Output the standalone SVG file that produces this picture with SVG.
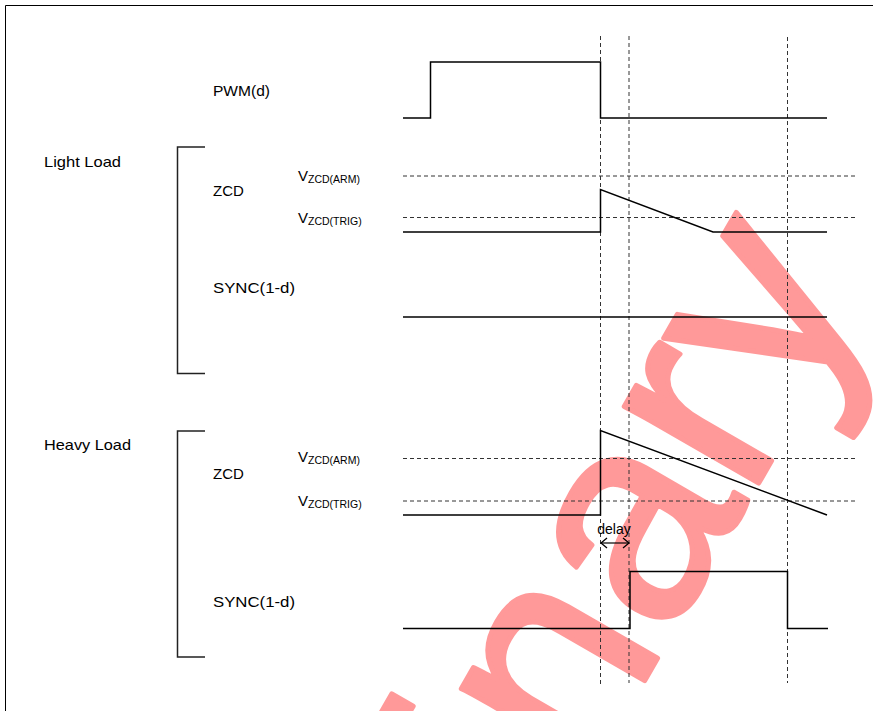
<svg xmlns="http://www.w3.org/2000/svg" width="873" height="711" viewBox="0 0 873 711">
<style>
.sig{fill:none;stroke:#000;stroke-width:1.5}
.dash{fill:none;stroke:#333;stroke-width:1;stroke-dasharray:4 3}
.brk{fill:none;stroke:#222;stroke-width:1.5}
.lbl{font-family:"Liberation Sans",Arial,sans-serif;font-size:15px;fill:#000}
.sub{font-size:10.5px}
.wm{font-family:"Liberation Sans",Arial,sans-serif;font-size:293px;fill:#ff9999;stroke:#ff9999;stroke-width:5;stroke-linejoin:round}
</style>
<defs>
<marker id="ah" markerWidth="10" markerHeight="12" refX="9" refY="6" orient="auto-start-reverse" markerUnits="userSpaceOnUse">
<path d="M3,1 L9,6 L3,11" fill="none" stroke="#000" stroke-width="1.3"/>
</marker>
</defs>
<rect width="873" height="711" fill="#fff"/>

<text class="wm" transform="translate(870.6,289.3) rotate(-60)" text-anchor="end">Preliminary</text>

<path d="M5.5,711 V5.5 H873" fill="none" stroke="#000" stroke-width="1"/>

<g id="guides">
<path class="dash" d="M600.5,36 V687 M629,36 V683 M787.5,37 V683"/>
<path class="dash" d="M403,176 H855 M403,217.5 H855 M403,458.5 H855 M403,501 H855"/>
</g>

<g id="pwm">
<text class="lbl" x="213" y="96" textLength="57" lengthAdjust="spacingAndGlyphs">PWM(d)</text>
<path class="sig" d="M403,118 H430.5 V62 H600.5 V118 H827"/>
</g>

<g id="light-load">
<text class="lbl" x="44" y="167" textLength="77" lengthAdjust="spacingAndGlyphs">Light Load</text>
<path class="brk" d="M205,147 H177.5 V373.5 H205"/>
</g>

<g id="light-zcd">
<text class="lbl" x="213" y="196">ZCD</text>
<text class="lbl" x="298" y="181">V<tspan class="sub" dy="2">ZCD(ARM)</tspan></text>
<text class="lbl" x="298" y="223">V<tspan class="sub" dy="2">ZCD(TRIG)</tspan></text>
<path class="sig" d="M403,232 H600.5 V189.5 L713,232 H827"/>
</g>

<g id="light-sync">
<text class="lbl" x="213" y="293" textLength="82" lengthAdjust="spacingAndGlyphs">SYNC(1-d)</text>
<path class="sig" d="M403,317 H827"/>
</g>

<g id="heavy-load">
<text class="lbl" x="44" y="450" textLength="87" lengthAdjust="spacingAndGlyphs">Heavy Load</text>
<path class="brk" d="M205,431 H177.5 V657 H205"/>
</g>

<g id="heavy-zcd">
<text class="lbl" x="213" y="479">ZCD</text>
<text class="lbl" x="298" y="462">V<tspan class="sub" dy="2">ZCD(ARM)</tspan></text>
<text class="lbl" x="298" y="506">V<tspan class="sub" dy="2">ZCD(TRIG)</tspan></text>
<path class="sig" d="M403,515 H600.5 V430.5 L827,515"/>
</g>

<g id="heavy-sync">
<text class="lbl" x="213" y="606.5" textLength="82" lengthAdjust="spacingAndGlyphs">SYNC(1-d)</text>
<path class="sig" d="M403,628.5 H630 V571.5 H787.5 V628.5 H828"/>
</g>

<g id="connectors">
<text class="lbl" x="614" y="534" text-anchor="middle" style="font-size:14px">delay</text>
<line x1="601" y1="543" x2="629" y2="543" stroke="#000" stroke-width="1.2" marker-start="url(#ah)" marker-end="url(#ah)"/>
</g>
</svg>
